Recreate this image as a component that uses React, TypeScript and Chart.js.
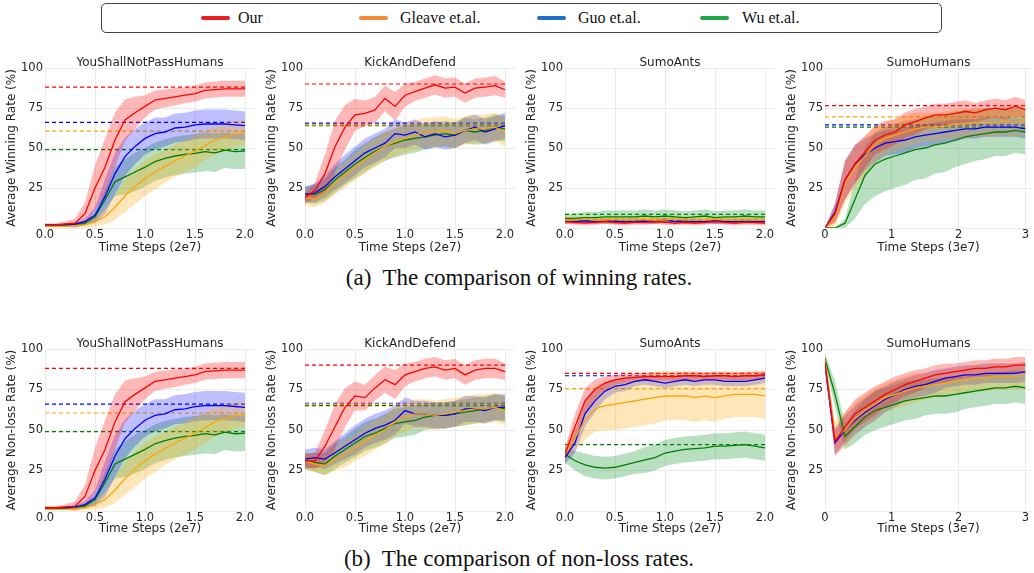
import React, { useEffect, useRef } from "react";
import { Chart, registerables } from "chart.js";

Chart.register(...registerables);

// ---------- shared axes / labels ----------
const X_2E7 = [0, 0.1, 0.2, 0.3, 0.4, 0.5, 0.6, 0.7, 0.8, 0.9, 1.0, 1.1, 1.2, 1.3, 1.4, 1.5, 1.6, 1.7, 1.8, 1.9, 2.0];
const X_3E7 = [0, 0.15, 0.3, 0.45, 0.6, 0.75, 0.9, 1.05, 1.2, 1.35, 1.5, 1.65, 1.8, 1.95, 2.1, 2.25, 2.4, 2.55, 2.7, 2.85, 3.0];
const X_TICKS_2E7 = [0, 0.5, 1, 1.5, 2];
const X_TICK_LABELS_2E7 = ["0.0", "0.5", "1.0", "1.5", "2.0"];
const X_TICKS_3E7 = [0, 1, 2, 3];
const X_TICK_LABELS_3E7 = ["0", "1", "2", "3"];
const Y_TICKS = [0, 25, 50, 75, 100];
const Y_TICK_LABELS = ["", "25", "50", "75", "100"];

const METHODS = ["Our", "Gleave et.al.", "Guo et.al.", "Wu et.al."];
const LINE_COLORS = ["#ff0000", "#ffa500", "#0000ff", "#008000"];
const BAND_COLORS = ["rgba(255,0,0,0.28)", "rgba(255,165,0,0.28)", "rgba(0,0,255,0.25)", "rgba(0,140,30,0.28)"];
const LEGEND_COLORS = ["#ea1c24", "#f58a3a", "#1f6fce", "#1ea84a"];

const TITLES = ["YouShallNotPassHumans", "KickAndDefend", "SumoAnts", "SumoHumans"];
const Y_LABEL_WIN = "Average Winning Rate (%)";
const Y_LABEL_NL = "Average Non-loss Rate (%)";
const X_LABEL_2E7 = "Time Steps (2e7)";
const X_LABEL_3E7 = "Time Steps (3e7)";

// ---------- YouShallNotPassHumans, winning ----------
const ysnpWinOur = [2, 2, 2.5, 3, 9, 25, 38, 55, 67.5, 72, 76, 80, 81, 82, 83, 84, 86, 86.5, 87, 87, 87];
const ysnpWinOurSd = [1, 1, 1.5, 3, 7, 14, 18, 17, 13, 10, 7, 6, 5.5, 5.5, 5, 5, 5, 5, 5, 5, 5];
const ysnpWinGleave = [1, 1, 1, 1.5, 2, 4, 7, 13, 20, 26, 31, 35, 38.5, 42, 45, 48, 51.5, 55, 57, 59, 59.5];
const ysnpWinGleaveSd = [0.5, 0.5, 0.5, 1, 1.5, 3, 5, 8, 10, 11, 11, 11, 10, 10, 10, 10, 9, 9, 9, 8, 8];
const ysnpWinGuo = [2, 2, 2, 2.5, 4, 8, 19.6, 34, 44.6, 51, 56, 59, 60, 62.5, 63, 64.4, 65, 65, 65, 64.5, 64];
const ysnpWinGuoSd = [0.5, 0.5, 0.5, 1, 2, 5, 11, 13, 12, 11, 10, 10, 9, 9, 9, 9, 9, 9, 9, 9, 9];
const ysnpWinWu = [1.5, 1.5, 1.5, 2, 3, 7, 17.5, 29, 32, 35, 38, 41.5, 43.5, 45, 46, 46.7, 47.7, 47, 48.7, 47.7, 48];
const ysnpWinWuSd = [0.5, 0.5, 0.5, 1, 1.5, 3, 6, 9, 11, 12, 12, 12, 12, 12, 12, 12, 12, 12, 11, 11, 11];
const ysnpWinRefs = [88, 60.5, 66, 49];

// ---------- KickAndDefend, winning ----------
const kadWinOur = [19, 23.5, 34, 50.8, 63, 70.7, 71.7, 73.8, 81, 76, 83, 85.3, 87.4, 89.5, 87.4, 88, 84.3, 87.4, 88, 89, 86.4];
const kadWinOurSd = [3, 5, 12, 16, 14, 10, 8, 8, 8, 9, 7, 6, 6, 6, 6, 6, 6, 6, 6, 6, 5];
const kadWinGleave = [19, 18, 22, 28, 33, 38, 43, 47, 51, 54, 56, 58, 60, 60, 61, 59, 61, 62, 62, 63, 60];
const kadWinGleaveSd = [5, 5, 6, 7, 8, 8, 9, 9, 9, 9, 9, 9, 9, 9, 9, 9, 9, 9, 9, 9, 9];
const kadWinGuo = [21, 22, 26, 32, 37, 42, 47, 50, 53, 59, 58, 60, 57, 59, 57, 58, 61, 63, 60, 62, 64];
const kadWinGuoSd = [5, 6, 7, 8, 9, 9, 9, 9, 9, 9, 8, 8, 8, 8, 8, 8, 8, 8, 8, 8, 8];
const kadWinWu = [21, 21, 24, 30, 35, 40, 44, 48, 51, 53, 55, 56, 57, 58, 59, 58, 61, 60, 61, 63, 62];
const kadWinWuSd = [5, 6, 7, 8, 8, 9, 9, 9, 9, 9, 9, 9, 8, 8, 8, 8, 8, 8, 8, 8, 8];
const kadWinRefs = [90, 64.5, 65.5, 64];

// ---------- SumoAnts, winning ----------
const antsWinOur = [4, 3.5, 3, 3.5, 4, 3.5, 3, 3.5, 3.5, 4, 3.5, 3, 3.5, 3, 3.5, 4, 3.5, 3, 3.5, 3.5, 3];
const antsWinOurSd = [1.5, 1.5, 1.5, 1.5, 1.5, 1.5, 1.5, 1.5, 1.5, 1.5, 1.5, 1.5, 1.5, 1.5, 1.5, 1.5, 1.5, 1.5, 1.5, 1.5, 1.5];
const antsWinGleave = [5, 5, 5.5, 5, 5, 5.5, 5, 5, 5.5, 5, 5, 5.5, 5, 5, 5, 5.5, 5, 5, 5, 5, 5];
const antsWinGleaveSd = [2, 2, 2, 2, 2, 2, 2, 2, 2, 2, 2, 2, 2, 2, 2, 2, 2, 2, 2, 2, 2];
const antsWinGuo = [4.5, 4, 4.5, 4, 4.5, 4, 4, 4.5, 4, 4, 5, 4, 4.5, 4, 4, 4.5, 4, 4, 4.5, 4, 4];
const antsWinGuoSd = [1.5, 1.5, 1.5, 1.5, 1.5, 1.5, 1.5, 1.5, 1.5, 1.5, 1.5, 1.5, 1.5, 1.5, 1.5, 1.5, 1.5, 1.5, 1.5, 1.5, 1.5];
const antsWinWu = [6, 6, 6.5, 6.5, 7, 7, 7, 7, 7.5, 7, 7.5, 7, 6.5, 7, 7.5, 6.5, 7, 7, 7.5, 7, 7];
const antsWinWuSd = [3, 3, 3.5, 3.5, 4, 4, 4, 4, 4, 4, 4, 4, 4, 4, 4, 4, 4, 4, 4, 4, 4];
const antsWinRefs = [4.5, 5.5, 4.5, 8.5];

// ---------- SumoHumans, winning ----------
const humWinOur = [0, 9, 30, 40, 47.6, 55, 58, 60, 64.4, 66.5, 68.6, 70.7, 70.7, 71.7, 72.8, 72, 73.8, 74.9, 73.8, 76, 74];
const humWinOurSd = [0, 6, 12, 12, 10, 9, 9, 8, 8, 8, 7, 7, 7, 7, 7, 6, 6, 6, 6, 6, 6];
const humWinGleave = [0, 7, 28, 38, 45, 52, 56, 58, 60, 62, 63, 63, 64, 65, 65, 66, 66, 66, 67, 66, 67];
const humWinGleaveSd = [0, 6, 13, 13, 12, 11, 10, 10, 10, 10, 9, 9, 9, 9, 9, 9, 9, 9, 9, 9, 9];
const humWinGuo = [0, 10, 30, 40, 46, 50, 53, 54, 55, 57, 58, 59, 60, 61, 62, 62, 63, 63, 63, 63, 62];
const humWinGuoSd = [0, 6, 12, 12, 10, 9, 8, 8, 8, 7, 7, 7, 7, 7, 6, 6, 6, 6, 6, 6, 6];
const humWinWu = [0, 0, 3, 18, 33, 40, 43, 45, 47, 49, 50, 52, 53, 55, 57, 58, 59, 60, 60, 61, 60];
const humWinWuSd = [0, 0, 3, 12, 18, 20, 20, 20, 20, 19, 19, 18, 18, 17, 17, 16, 16, 15, 15, 14, 14];
const humWinRefs = [76.5, 69.5, 64.5, 63];

// ---------- YouShallNotPassHumans, non-loss ----------
const ysnpNlOur = [2, 2, 2.5, 3, 9, 25, 38, 55, 67.5, 72, 76, 80, 81, 82, 83, 84, 86, 86.5, 87, 87, 87];
const ysnpNlOurSd = [1, 1, 1.5, 3, 7, 14, 18, 17, 13, 10, 7, 6, 5.5, 5.5, 5, 5, 5, 5, 5, 5, 5];
const ysnpNlGleave = [1, 1, 1, 1.5, 2, 4, 7, 13, 20, 26, 31, 35, 38.5, 42, 45, 48, 51.5, 55, 57, 59, 59.5];
const ysnpNlGleaveSd = [0.5, 0.5, 0.5, 1, 1.5, 3, 5, 8, 10, 11, 11, 11, 10, 10, 10, 10, 9, 9, 9, 8, 8];
const ysnpNlGuo = [2, 2, 2, 2.5, 4, 8, 19.6, 34, 44.6, 51, 56, 59, 60, 62.5, 63, 64.4, 65, 65, 65, 64.5, 64];
const ysnpNlGuoSd = [0.5, 0.5, 0.5, 1, 2, 5, 11, 13, 12, 11, 10, 10, 9, 9, 9, 9, 9, 9, 9, 9, 9];
const ysnpNlWu = [1.5, 1.5, 1.5, 2, 3, 7, 17.5, 29, 32, 35, 38, 41.5, 43.5, 45, 46, 46.7, 47.7, 47, 48.7, 47.7, 48];
const ysnpNlWuSd = [0.5, 0.5, 0.5, 1, 1.5, 3, 6, 9, 11, 12, 12, 12, 12, 12, 12, 12, 12, 12, 11, 11, 11];
const ysnpNlRefs = [88, 60.5, 66, 49];

// ---------- KickAndDefend, non-loss ----------
const kadNlOur = [31, 31, 40, 52, 64, 71, 70, 76, 81, 78, 84, 86, 88, 89, 87, 88, 84, 87, 88, 88, 86];
const kadNlOurSd = [4, 5, 10, 14, 12, 9, 8, 8, 8, 9, 7, 6, 6, 6, 6, 6, 6, 6, 6, 6, 5];
const kadNlGleave = [31, 29, 28, 32, 35, 39, 43, 47, 50, 55, 58, 60, 60, 59, 60, 61, 62, 63, 63, 64, 62];
const kadNlGleaveSd = [5, 5, 6, 7, 8, 8, 9, 9, 9, 9, 9, 9, 9, 9, 9, 9, 9, 9, 9, 9, 9];
const kadNlGuo = [32, 33, 32, 36, 40, 44, 48, 51, 53, 56, 62, 60, 60, 59, 59, 60, 63, 63, 62, 64, 64];
const kadNlGuoSd = [6, 6, 6, 7, 8, 9, 9, 9, 9, 9, 8, 8, 8, 8, 8, 8, 8, 8, 8, 8, 8];
const kadNlWu = [31, 30, 29, 34, 38, 42, 46, 48, 51, 54, 55, 56, 58, 59, 59, 60, 61, 62, 63, 64, 63];
const kadNlWuSd = [5, 6, 7, 8, 8, 9, 9, 9, 9, 9, 9, 9, 8, 8, 8, 8, 8, 8, 8, 8, 8];
const kadNlRefs = [90, 66, 66.5, 65];

// ---------- SumoAnts, non-loss ----------
const antsNlOur = [35, 52, 68, 75, 79, 81, 82, 82.5, 83, 83, 83, 83, 83.5, 83.5, 83, 83.5, 83.5, 83, 83.5, 83.5, 84];
const antsNlOurSd = [4, 8, 8, 6, 4, 3, 3, 2.5, 2.5, 2.5, 2.5, 2.5, 2.5, 2.5, 2.5, 2.5, 2.5, 2.5, 2.5, 2.5, 2.5];
const antsNlGleave = [35, 45, 56, 63, 65, 66, 67, 68, 69, 70, 71, 71, 71, 70, 71, 70, 71, 72, 72, 72, 71];
const antsNlGleaveSd = [4, 8, 12, 14, 15, 16, 16, 16, 16, 16, 15, 15, 15, 15, 15, 15, 14, 14, 14, 14, 14];
const antsNlGuo = [33, 42, 60, 68, 74, 77, 78, 80, 81, 80, 79, 80, 81, 80, 81, 81, 80, 80, 80, 81, 82];
const antsNlGuoSd = [4, 6, 8, 7, 5, 4, 4, 3, 3, 3, 3, 3, 3, 3, 3, 3, 3, 3, 3, 3, 3];
const antsNlWu = [35, 31, 28.5, 27, 26.5, 27, 28.5, 30, 31.5, 33, 35.8, 37, 38, 38.5, 39, 40, 40, 40.5, 41, 40, 39];
const antsNlWuSd = [5, 6, 7, 7, 7, 7, 7, 7, 8, 8, 8, 8, 8, 8, 8, 8, 8, 8, 8, 8, 8];
const antsNlRefs = [85, 75.5, 83.5, 41];

// ---------- SumoHumans, non-loss ----------
const humNlOur = [92, 43, 52, 60, 64, 68, 72, 75, 78, 80, 82, 84, 85, 86, 87, 88, 88, 89, 89, 90, 90];
const humNlOurSd = [3, 8, 9, 9, 9, 9, 8, 8, 7, 7, 6, 6, 6, 5, 5, 5, 5, 5, 5, 5, 5];
const humNlGleave = [93, 45, 50, 57, 62, 66, 70, 72, 74, 76, 77, 78, 79, 80, 81, 82, 82, 83, 83, 83, 84];
const humNlGleaveSd = [3, 10, 11, 10, 10, 10, 9, 9, 9, 9, 8, 8, 8, 8, 8, 8, 8, 8, 8, 8, 8];
const humNlGuo = [90, 42, 50, 56, 61, 65, 69, 72, 75, 77, 78, 80, 82, 83, 84, 84, 85, 85, 85, 85, 86];
const humNlGuoSd = [3, 8, 9, 9, 9, 9, 8, 8, 7, 7, 7, 7, 6, 6, 6, 6, 6, 6, 6, 6, 6];
const humNlWu = [94, 72, 46, 52, 58, 62, 64, 66, 68, 69, 70, 71, 71, 72, 73, 74, 75, 76, 76, 77, 76];
const humNlWuSd = [3, 8, 8, 10, 11, 12, 12, 12, 12, 12, 11, 11, 11, 11, 10, 10, 10, 10, 10, 10, 10];

// ---------- layout ----------
const PLOT_LEFT0 = 45;
const COL_STEP = 260;
const ROW_TOP = [68, 349];
const ROW_PLOT_H = [160, 162];
const ROW_BOTTOM_H = [28, 26];
const Y_AXIS_W = 45;
const TOP_H = 20;
const GRID = "#ebebeb";
const TXT = "#262626";
const SANS = "'DejaVu Sans', sans-serif";

type Panel = {
  title: string; yLabel: string; xLabel: string;
  xs: number[]; xTicks: number[]; xTickLabels: string[];
  xSpan: number; xMax: number;
  means: number[][]; sds: number[][]; refs: number[] | null;
  col: number; row: number;
};

const P2 = { xs: X_2E7, xTicks: X_TICKS_2E7, xTickLabels: X_TICK_LABELS_2E7, xSpan: 2, xMax: 2.1, xLabel: X_LABEL_2E7 };
const P3 = { xs: X_3E7, xTicks: X_TICKS_3E7, xTickLabels: X_TICK_LABELS_3E7, xSpan: 3, xMax: 3.1, xLabel: X_LABEL_3E7 };

const PANELS: Panel[] = [
  { ...P2, title: TITLES[0], yLabel: Y_LABEL_WIN, col: 0, row: 0, refs: ysnpWinRefs,
    means: [ysnpWinOur, ysnpWinGleave, ysnpWinGuo, ysnpWinWu], sds: [ysnpWinOurSd, ysnpWinGleaveSd, ysnpWinGuoSd, ysnpWinWuSd] },
  { ...P2, title: TITLES[1], yLabel: Y_LABEL_WIN, col: 1, row: 0, refs: kadWinRefs,
    means: [kadWinOur, kadWinGleave, kadWinGuo, kadWinWu], sds: [kadWinOurSd, kadWinGleaveSd, kadWinGuoSd, kadWinWuSd] },
  { ...P2, title: TITLES[2], yLabel: Y_LABEL_WIN, col: 2, row: 0, refs: antsWinRefs,
    means: [antsWinOur, antsWinGleave, antsWinGuo, antsWinWu], sds: [antsWinOurSd, antsWinGleaveSd, antsWinGuoSd, antsWinWuSd] },
  { ...P3, title: TITLES[3], yLabel: Y_LABEL_WIN, col: 3, row: 0, refs: humWinRefs,
    means: [humWinOur, humWinGleave, humWinGuo, humWinWu], sds: [humWinOurSd, humWinGleaveSd, humWinGuoSd, humWinWuSd] },
  { ...P2, title: TITLES[0], yLabel: Y_LABEL_NL, col: 0, row: 1, refs: ysnpNlRefs,
    means: [ysnpNlOur, ysnpNlGleave, ysnpNlGuo, ysnpNlWu], sds: [ysnpNlOurSd, ysnpNlGleaveSd, ysnpNlGuoSd, ysnpNlWuSd] },
  { ...P2, title: TITLES[1], yLabel: Y_LABEL_NL, col: 1, row: 1, refs: kadNlRefs,
    means: [kadNlOur, kadNlGleave, kadNlGuo, kadNlWu], sds: [kadNlOurSd, kadNlGleaveSd, kadNlGuoSd, kadNlWuSd] },
  { ...P2, title: TITLES[2], yLabel: Y_LABEL_NL, col: 2, row: 1, refs: antsNlRefs,
    means: [antsNlOur, antsNlGleave, antsNlGuo, antsNlWu], sds: [antsNlOurSd, antsNlGleaveSd, antsNlGuoSd, antsNlWuSd] },
  { ...P3, title: TITLES[3], yLabel: Y_LABEL_NL, col: 3, row: 1, refs: null,
    means: [humNlOur, humNlGleave, humNlGuo, humNlWu], sds: [humNlOurSd, humNlGleaveSd, humNlGuoSd, humNlWuSd] },
];

function PanelChart({ p }: { p: Panel }) {
  const ref = useRef<HTMLCanvasElement>(null);
  const plotW = (p.xMax / p.xSpan) * 200;
  const plotLeft = PLOT_LEFT0 + COL_STEP * p.col;
  const plotTop = ROW_TOP[p.row];
  const plotH = ROW_PLOT_H[p.row];
  const bottomH = ROW_BOTTOM_H[p.row];
  const W = Math.round(Y_AXIS_W + plotW);
  const H = TOP_H + plotH + bottomH;

  useEffect(() => {
    const canvas = ref.current;
    if (!canvas) return;
    const datasets: any[] = [];
    const xEnd = p.xs[p.xs.length - 1];
    if (p.refs) {
      p.refs.forEach((v, i) => {
        datasets.push({
          data: [{ x: 0, y: v }, { x: xEnd, y: v }],
          borderColor: LINE_COLORS[i], borderWidth: 1.2, borderDash: [4, 3],
          pointRadius: 0, fill: false, order: 3,
        });
      });
    }
    p.means.forEach((m, i) => {
      const sd = p.sds[i];
      const upIdx = datasets.length;
      datasets.push({
        data: p.xs.map((x, k) => ({ x, y: m[k] + sd[k] })),
        borderWidth: 0, pointRadius: 0, fill: false, order: 2,
      });
      datasets.push({
        data: p.xs.map((x, k) => ({ x, y: Math.max(0, m[k] - sd[k]) })),
        borderWidth: 0, pointRadius: 0, fill: upIdx, backgroundColor: BAND_COLORS[i], order: 2,
      });
    });
    p.means.forEach((m, i) => {
      datasets.push({
        label: METHODS[i],
        data: p.xs.map((x, k) => ({ x, y: m[k] })),
        borderColor: LINE_COLORS[i], borderWidth: 1.3, pointRadius: 0, fill: false, order: 1,
      });
    });

    const tickFont = { family: SANS, size: 11.5 };
    const titleFont = { family: SANS, size: 12 };

    const chart = new Chart(canvas, {
      type: "line",
      data: { datasets },
      options: {
        animation: false,
        responsive: false,
        events: [],
        layout: { padding: 0 },
        plugins: { legend: { display: false }, tooltip: { enabled: false } },
        scales: {
          x: {
            type: "linear", position: "bottom", min: 0, max: p.xMax,
            afterBuildTicks: (s: any) => { s.ticks = p.xTicks.map((v) => ({ value: v })); },
            ticks: {
              callback: (v: any) => p.xTickLabels[p.xTicks.indexOf(Number(v))] ?? "",
              font: tickFont, color: TXT, padding: 0, maxRotation: 0, autoSkip: false,
            },
            grid: { color: GRID, drawTicks: false },
            border: { display: false },
            title: { display: true, text: p.xLabel, font: titleFont, color: TXT, padding: { top: 0, bottom: 1 } },
            afterFit: (s: any) => { s.height = bottomH; },
          },
          xTop: {
            type: "linear", position: "top", min: 0, max: p.xMax, display: true,
            grid: { display: false, drawTicks: false },
            ticks: { display: false },
            border: { display: false },
            title: { display: true, text: p.title, font: titleFont, color: TXT, padding: { top: 8, bottom: 0 } },
            afterFit: (s: any) => { s.height = TOP_H; },
          },
          y: {
            type: "linear", position: "left", min: 0, max: 100,
            afterBuildTicks: (s: any) => { s.ticks = Y_TICKS.map((v) => ({ value: v })); },
            ticks: {
              callback: (v: any) => Y_TICK_LABELS[Y_TICKS.indexOf(Number(v))] ?? "",
              font: tickFont, color: TXT, padding: 2,
            },
            grid: { color: GRID, drawTicks: false },
            border: { display: false },
            title: { display: true, text: p.yLabel, font: titleFont, color: TXT, padding: { top: 5, bottom: 0 } },
            afterFit: (s: any) => { s.width = Y_AXIS_W; },
          },
        },
      } as any,
    });
    return () => chart.destroy();
  }, [p]);

  return (
    <canvas
      ref={ref}
      width={W}
      height={H}
      style={{ position: "absolute", left: plotLeft - Y_AXIS_W, top: plotTop - TOP_H, width: W, height: H }}
    />
  );
}

const LEGEND_LINE_X = [201, 359, 537, 700];
const LEGEND_TEXT_X = [238, 400, 578, 742];
const CAPTION_A = "(a)\u00a0 The comparison of winning rates.";
const CAPTION_B = "(b)\u00a0 The comparison of non-loss rates.";

export default function App() {
  const serif = "'Liberation Serif', 'Times New Roman', serif";
  return (
    <div style={{ position: "absolute", left: 0, top: 0, width: 1034, height: 573, overflow: "hidden", background: "#fff" }}>
      <div style={{ position: "absolute", left: 101, top: 3, width: 841, height: 30, border: "1.5px solid #3b4557", borderRadius: 5, boxSizing: "border-box" }} />
      {METHODS.map((m, i) => (
        <React.Fragment key={m}>
          <div style={{ position: "absolute", left: LEGEND_LINE_X[i], top: 16, width: 29, height: 4, borderRadius: 2, background: LEGEND_COLORS[i] }} />
          <div style={{ position: "absolute", left: LEGEND_TEXT_X[i], top: 8, height: 20, lineHeight: "20px", fontFamily: serif, fontSize: 16, color: "#111", whiteSpace: "pre" }}>{m}</div>
        </React.Fragment>
      ))}
      {PANELS.map((p, i) => <PanelChart key={i} p={p} />)}
      <div style={{ position: "absolute", left: 2, top: 264, width: 1034, textAlign: "center", fontFamily: serif, fontSize: 23, lineHeight: "28px", color: "#111", whiteSpace: "pre" }}>{CAPTION_A}</div>
      <div style={{ position: "absolute", left: 2, top: 545, width: 1034, textAlign: "center", fontFamily: serif, fontSize: 23, lineHeight: "28px", color: "#111", whiteSpace: "pre" }}>{CAPTION_B}</div>
    </div>
  );
}
